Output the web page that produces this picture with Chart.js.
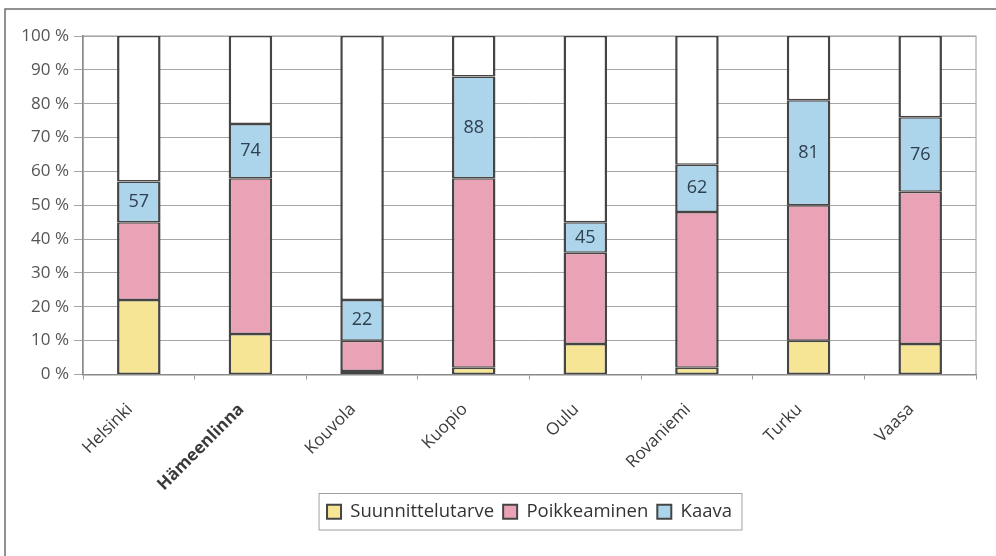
<!DOCTYPE html>
<html lang="fi">
<head>
    <meta charset="UTF-8">
    <title>Kaava / Poikkeaminen / Suunnittelutarve</title>
    <script src="https://cdn.jsdelivr.net/npm/chart.js"></script>
    <style>
        html, body { margin: 0; padding: 0; background: #ffffff; }
        #wrap { width: 996px; height: 556px; position: relative; }
    </style>
</head>
<body>
<div id="wrap"><canvas id="chart"></canvas></div>
<script>
    // kaupungit
    const cities = ['Helsinki', 'Hämeenlinna', 'Kouvola', 'Kuopio', 'Oulu', 'Rovaniemi', 'Turku', 'Vaasa'];
    // osuudet prosentteina
    const suunnittelutarve = [22, 12, 1, 2, 9, 2, 10, 9];
    const poikkeaminen = [23, 46, 9, 56, 27, 46, 40, 45];
    const kaava = [12, 16, 12, 30, 9, 14, 31, 22];
    const yTicks = [0, 10, 20, 30, 40, 50, 60, 70, 80, 90, 100];

    // loput 100 %:iin asti (valkoinen osa)
    const rest = cities.map((c, i) => 100 - suunnittelutarve[i] - poikkeaminen[i] - kaava[i]);

    const FONT = '"Open Sans", Lato, sans-serif';
    const segBorder = { left: 2.5, right: 2.5, top: 1.5, bottom: 1.5 };

    // kehys koko kuvan ympärille + kuvaajan reunat
    const framePlugin = {
        id: 'frame',
        afterUpdate(chart) {
            // legenda keskelle kuvaajan alueen alle
            const lg = chart.legend;
            const a = chart.chartArea;
            const shift = (a.left + a.right) / 2 - (lg.left + lg.right) / 2;
            lg.left += shift;
            lg.right += shift;
            lg.legendHitBoxes.forEach(h => { h.left += shift; });
        },
        beforeDraw(chart) {
            const ctx = chart.ctx;
            const a = chart.chartArea;
            ctx.save();
            ctx.strokeStyle = '#6e6e6e';
            ctx.lineWidth = 1.5;
            ctx.beginPath();
            ctx.moveTo(5, 556);
            ctx.lineTo(5, 9);
            ctx.lineTo(996, 9);
            ctx.stroke();
            ctx.strokeStyle = '#9a9a9a';
            ctx.lineWidth = 1;
            ctx.strokeRect(a.left, a.top, a.right - a.left, a.bottom - a.top);
            ctx.restore();
        },
        afterDraw(chart) {
            // legendan ympärille laatikko
            const boxes = chart.legend.legendHitBoxes;
            if (!boxes || !boxes.length) return;
            const ctx = chart.ctx;
            let l = Infinity, r = -Infinity, t = Infinity, b = -Infinity;
            boxes.forEach(h => {
                l = Math.min(l, h.left); r = Math.max(r, h.left + h.width);
                t = Math.min(t, h.top); b = Math.max(b, h.top + h.height);
            });
            ctx.save();
            ctx.strokeStyle = '#a0a0a0';
            ctx.lineWidth = 1;
            ctx.strokeRect(l - 8, t - 9, (r - l) + 18, (b - t) + 18);
            ctx.restore();
        }
    };

    // kaava-osan päälle kumulatiivinen summa
    const sumLabels = {
        id: 'sumLabels',
        afterDatasetsDraw(chart) {
            const ctx = chart.ctx;
            const meta = chart.getDatasetMeta(2);
            ctx.save();
            ctx.font = '18px ' + FONT;
            ctx.fillStyle = '#2f4050';
            ctx.textAlign = 'center';
            ctx.textBaseline = 'middle';
            meta.data.forEach((bar, i) => {
                const total = suunnittelutarve[i] + poikkeaminen[i] + kaava[i];
                ctx.fillText(String(total), bar.x, (bar.y + bar.base) / 2);
            });
            ctx.restore();
        }
    };

    const ctx = document.getElementById('chart').getContext('2d');
    new Chart(ctx, {
        type: 'bar',
        data: {
            labels: cities,
            datasets: [
                { label: 'Suunnittelutarve', data: suunnittelutarve, backgroundColor: '#f6e594' },
                { label: 'Poikkeaminen', data: poikkeaminen, backgroundColor: '#eaa3b6' },
                { label: 'Kaava', data: kaava, backgroundColor: '#acd4ea' },
                { label: 'muu', data: rest, backgroundColor: '#ffffff' }
            ].map(d => Object.assign(d, {
                borderColor: '#454545',
                borderWidth: segBorder,
                borderSkipped: false,
                barPercentage: 0.39,
                categoryPercentage: 1
            }))
        },
        options: {
            responsive: true,
            maintainAspectRatio: false,
            animation: false,
            layout: { padding: { left: 0, top: 36, right: 20, bottom: 25 } },
            plugins: {
                tooltip: { enabled: false },
                legend: {
                    position: 'bottom',
                    labels: {
                        filter: item => item.datasetIndex < 3,
                        font: { family: FONT, size: 18.5 },
                        color: '#333333',
                        boxWidth: 14,
                        boxHeight: 14,
                        padding: 9
                    }
                }
            },
            scales: {
                x: {
                    stacked: true,
                    grid: { drawOnChartArea: false, tickLength: 5, color: '#9a9a9a' },
                    border: { color: '#8a8a8a', width: 1.5 },
                    ticks: {
                        maxRotation: 45,
                        minRotation: 45,
                        color: '#3a3a3a',
                        padding: 20,
                        labelOffset: -9,
                        font: c => ({ family: FONT, size: 17, weight: c.index === 1 ? 'bold' : 'normal' })
                    },
                    afterFit: s => { s.height = 119; }
                },
                y: {
                    stacked: true,
                    min: 0,
                    max: 100,
                    afterBuildTicks: s => { s.ticks = yTicks.map(v => ({ value: v })); },
                    grid: { color: '#a6a6a6', tickLength: 9 },
                    border: { color: '#8a8a8a', width: 1.5 },
                    ticks: {
                        color: '#555555',
                        padding: 5,
                        font: { family: FONT, size: 17 },
                        callback: v => v + ' %'
                    },
                    afterFit: s => { s.width = 83; }
                }
            }
        },
        plugins: [framePlugin, sumLabels]
    });
</script>
</body>
</html>
